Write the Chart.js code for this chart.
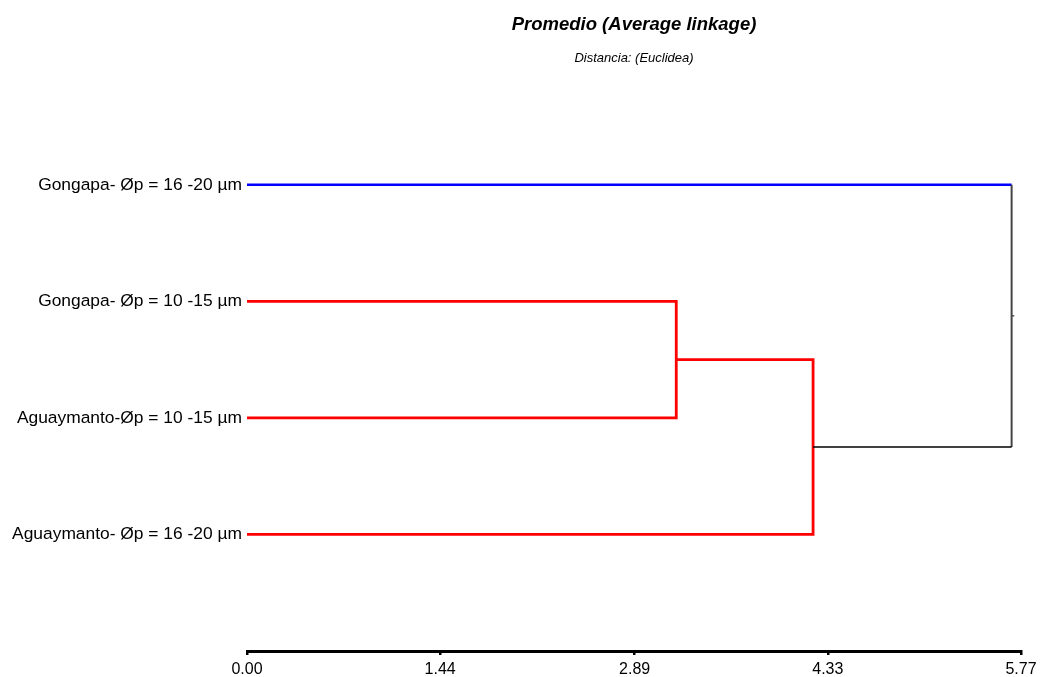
<!DOCTYPE html>
<html>
<head>
<meta charset="utf-8">
<script src="https://cdn.jsdelivr.net/npm/chart.js@4.4.1/dist/chart.umd.min.js"></script>
<style>
  html, body { margin: 0; padding: 0; background: #ffffff; }
  #wrap { width: 1040px; height: 677px; }
</style>
</head>
<body>
<div id="wrap"><canvas id="c" width="1040" height="677"></canvas></div>
<script>
// Leaves of the dendrogram, top to bottom
const leaves = [
  "Gongapa- \u00D8p = 16 -20 \u00B5m",
  "Gongapa- \u00D8p = 10 -15 \u00B5m",
  "Aguaymanto-\u00D8p = 10 -15 \u00B5m",
  "Aguaymanto- \u00D8p = 16 -20 \u00B5m"
];
// Fusion distances (average linkage, Euclidean)
const mergeHeights = [3.20, 4.22, 5.70];
// Distance axis ticks
const distanceTicks = [0.00, 1.44, 2.89, 4.33, 5.77];

// Cluster 1: leaves 1 & 2 join at mergeHeights[0]
const y1 = (1 + 2) / 2;
// Cluster 2: cluster 1 & leaf 3 join at mergeHeights[1]
const y2 = (y1 + 3) / 2;
// Root: leaf 0 & cluster 2 join at mergeHeights[2]
const yRoot = (0 + y2) / 2;

const red = '#ff0000';
const blue = '#0000ff';

function link(points, color, width) {
  return {
    data: points.map(p => ({ x: p[0], y: p[1] })),
    borderColor: color,
    borderWidth: width,
    pointRadius: 0,
    pointHoverRadius: 0,
    tension: 0,
    fill: false,
    borderJoinStyle: 'miter'
  };
}

const datasets = [
  // root: horizontal from cluster 2 and the vertical join
  link([[mergeHeights[1], y2], [mergeHeights[2], y2]], '#000000', 1.5),
  link([[mergeHeights[2], 0], [mergeHeights[2], y2]], '#444444', 2),
  link([[mergeHeights[2], yRoot], [mergeHeights[2] + 0.02, yRoot]], '#000000', 1),
  // leaf 0 (own cluster)
  link([[0, 0], [mergeHeights[2], 0]], blue, 2.5),
  // cluster 1
  link([[0, 1], [mergeHeights[0], 1], [mergeHeights[0], 2], [0, 2]], red, 2.8),
  // cluster 2
  link([[mergeHeights[0], y1], [mergeHeights[1], y1], [mergeHeights[1], 3], [0, 3]], red, 2.8)
];

new Chart(document.getElementById('c'), {
  type: 'line',
  data: { datasets },
  options: {
    responsive: false,
    animation: false,
    layout: { padding: { left: 0, right: 19, top: 0, bottom: 0 } },
    plugins: {
      legend: { display: false },
      tooltip: { enabled: false },
      title: {
        display: true,
        text: 'Promedio (Average linkage)',
        fullSize: false,
        color: '#000000',
        font: { family: 'Liberation Sans', size: 18.5, style: 'italic', weight: 'bold' },
        padding: { top: 14, bottom: 14 }
      },
      subtitle: {
        display: true,
        text: 'Distancia: (Euclidea)',
        fullSize: false,
        color: '#000000',
        font: { family: 'Liberation Sans', size: 13, style: 'italic' },
        padding: { top: 0, bottom: 49 }
      }
    },
    scales: {
      x: {
        type: 'linear',
        min: 0,
        max: 5.77,
        afterBuildTicks: (axis) => { axis.ticks = distanceTicks.map(v => ({ value: v })); },
        afterFit: (axis) => {
          axis.height = 26;
          axis.paddingLeft = 0;
          axis.paddingRight = 0;
        },
        ticks: {
          autoSkip: false,
          maxRotation: 0,
          color: '#000000',
          padding: 5,
          font: { family: 'Liberation Sans', size: 16 },
          callback: (v) => Number(v).toFixed(2)
        },
        grid: {
          display: true,
          drawOnChartArea: false,
          drawTicks: true,
          tickLength: 4,
          color: '#000000',
          lineWidth: 2.5
        },
        border: { display: true, color: '#000000', width: 3 }
      },
      y: {
        type: 'linear',
        reverse: true,
        min: -0.6,
        max: 4,
        afterBuildTicks: (axis) => { axis.ticks = leaves.map((_, i) => ({ value: i })); },
        afterFit: (axis) => { axis.width = 247; },
        ticks: {
          autoSkip: false,
          color: '#000000',
          padding: -3,
          font: { family: 'Liberation Sans', size: 17.4 },
          callback: (v) => leaves[v] !== undefined ? leaves[v] : ''
        },
        grid: { display: false },
        border: { display: false }
      }
    }
  }
});
</script>
</body>
</html>
